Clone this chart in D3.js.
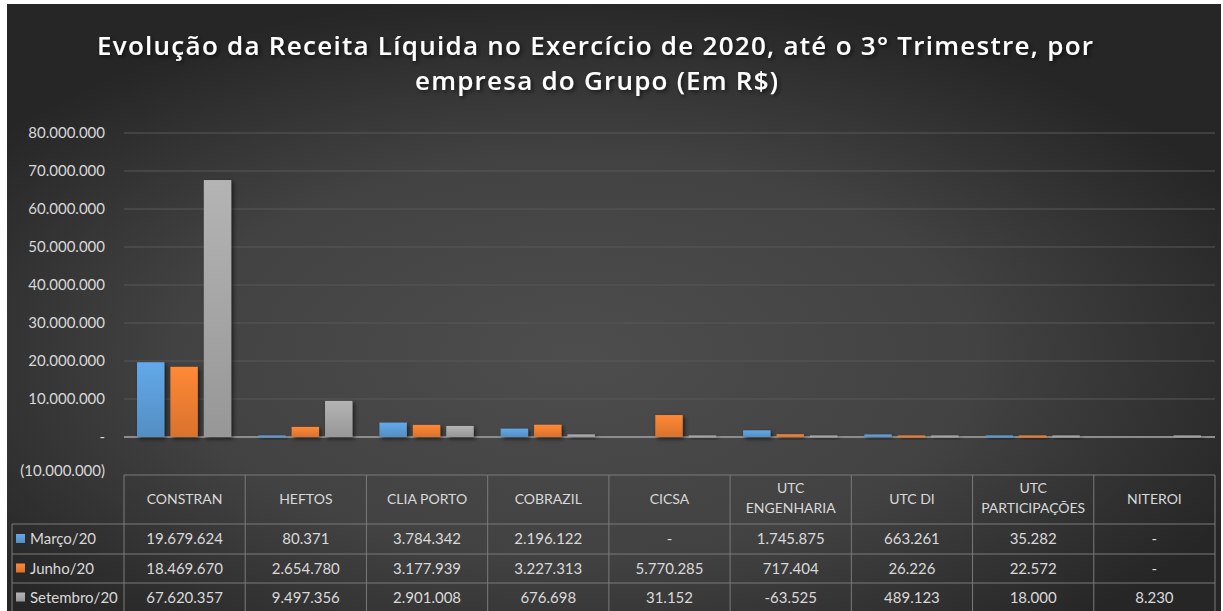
<!DOCTYPE html>
<html>
<head>
<meta charset="utf-8">
<script src="https://cdn.jsdelivr.net/npm/d3@7"></script>
<style>
  body { margin: 0; background: #fff; }
  svg { display: block; }
</style>
</head>
<body>
<div id="chart"></div>
<script>
const empresas = ['CONSTRAN', 'HEFTOS', 'CLIA PORTO', 'COBRAZIL', 'CICSA', 'UTC ENGENHARIA', 'UTC DI', 'UTC PARTICIPAÇÕES', 'NITEROI'];
const series = ['Março/20', 'Junho/20', 'Setembro/20'];
const marco = [19679624, 80371, 3784342, 2196122, null, 1745875, 663261, 35282, null];
const junho = [18469670, 2654780, 3177939, 3227313, 5770285, 717404, 26226, 22572, null];
const setembro = [67620357, 9497356, 2901008, 676698, 31152, -63525, 489123, 18000, 8230];
const yTicks = [-10000000, 0, 10000000, 20000000, 30000000, 40000000, 50000000, 60000000, 70000000, 80000000];
const colors = ['#5b9bd5', '#ed7d31', '#a5a5a5'];

const values = [marco, junho, setembro];
const W = 1223, H = 611;
const plotLeft = 124, plotRight = 1215, plotTop = 133, plotBottom = 475;

const fmt = v => {
  if (v === null) return '-';
  const s = d3.format(',')(Math.abs(v)).replace(/,/g, '.');
  return v < 0 ? '-' + s : s;
};
const tickFmt = v => {
  if (v === 0) return '-';
  const s = d3.format(',')(Math.abs(v)).replace(/,/g, '.');
  return v < 0 ? '(' + s + ')' : s;
};

const svg = d3.select('#chart').append('svg')
  .attr('width', W).attr('height', H);

const defs = svg.append('defs');
const bg = defs.append('radialGradient').attr('id', 'bg')
  .attr('cx', '0.47').attr('cy', '0.58').attr('r', '0.6');
bg.append('stop').attr('offset', '0%').attr('stop-color', '#4d4d4d');
bg.append('stop').attr('offset', '55%').attr('stop-color', '#424242');
bg.append('stop').attr('offset', '100%').attr('stop-color', '#262626');

colors.forEach((c, i) => {
  const g = defs.append('linearGradient').attr('id', 'bar' + i)
    .attr('x1', 0).attr('y1', 0).attr('x2', 0).attr('y2', 1);
  g.append('stop').attr('offset', '0%').attr('stop-color', d3.color(c).brighter(0.25));
  g.append('stop').attr('offset', '100%').attr('stop-color', d3.color(c).darker(0.25));
});

const shadow = defs.append('filter').attr('id', 'shadow')
  .attr('x', '-20%').attr('y', '-50%').attr('width', '150%').attr('height', '250%');
shadow.append('feDropShadow').attr('dx', 2).attr('dy', 2).attr('stdDeviation', 2)
  .attr('flood-color', '#000').attr('flood-opacity', 0.6);

svg.append('rect').attr('x', 7).attr('y', 4).attr('width', 1214).attr('height', H - 4)
  .attr('fill', 'url(#bg)');

// title
const title = svg.append('g').attr('fill', '#ffffff')
  .style('font-family', '"Open Sans", Lato, sans-serif')
  .style('font-weight', 600).style('font-size', '26px')
  .attr('filter', 'url(#shadow)');
title.append('text').attr('x', 97).attr('y', 55)
  .attr('textLength', 996).attr('lengthAdjust', 'spacing')
  .text('Evolução da Receita Líquida no Exercício de 2020, até o 3° Trimestre, por');
title.append('text').attr('x', 415).attr('y', 90)
  .attr('textLength', 363).attr('lengthAdjust', 'spacing')
  .text('empresa do Grupo (Em R$)');

const x = d3.scaleBand().domain(empresas).range([plotLeft, plotRight]).padding(0);
const xs = d3.scaleBand().domain(series).range([13, x.bandwidth() - 14]).paddingInner(0.18);
const y = d3.scaleLinear().domain([-10000000, 80000000]).range([plotBottom, plotTop]);

// gridlines
svg.append('g').selectAll('line').data(yTicks.filter(t => t > 0)).join('line')
  .attr('x1', plotLeft).attr('x2', plotRight)
  .attr('y1', d => y(d)).attr('y2', d => y(d))
  .attr('stroke', '#595959').attr('stroke-width', 1);

// y axis labels
const yAxis = svg.append('g').attr('transform', `translate(${plotLeft - 16},0)`)
  .call(d3.axisLeft(y).tickValues(yTicks).tickFormat(tickFmt).tickSize(0));
yAxis.select('.domain').remove();
yAxis.selectAll('text').attr('fill', '#d9d9d9')
  .style('font-family', 'Lato, sans-serif').style('font-size', '15px')
  .attr('dy', d => d === -10000000 ? '0.05em' : '0.32em');

// zero axis
svg.append('line').attr('x1', plotLeft).attr('x2', plotRight)
  .attr('y1', y(0)).attr('y2', y(0))
  .attr('stroke', '#8c8c8c').attr('stroke-width', 2);

// bars
const groups = svg.append('g').selectAll('g').data(empresas).join('g')
  .attr('transform', d => `translate(${x(d)},0)`);
groups.selectAll('rect')
  .data((d, i) => series.map((s, k) => ({ s, k, v: values[k][i] })).filter(e => e.v !== null))
  .join('rect')
  .attr('x', d => xs(d.s))
  .attr('width', xs.bandwidth())
  .attr('y', d => {
    const h = Math.abs(y(d.v) - y(0));
    if (h < 2) return y(0) - 1.5;
    return d.v >= 0 ? y(d.v) : y(0);
  })
  .attr('height', d => Math.max(2, Math.abs(y(d.v) - y(0))))
  .attr('fill', d => `url(#bar${d.k})`)
  .attr('filter', 'url(#shadow)');

// data table
const rowY = [475, 524, 554, 583, 612];
const tableLine = '#7a7a7a';
const tbl = svg.append('g');
tbl.append('line').attr('x1', plotLeft).attr('x2', plotRight).attr('y1', rowY[0]).attr('y2', rowY[0])
  .attr('stroke', tableLine);
rowY.slice(1).forEach(yy => {
  tbl.append('line').attr('x1', 12).attr('x2', plotRight).attr('y1', yy).attr('y2', yy)
    .attr('stroke', tableLine);
});
tbl.selectAll('line.v').data(empresas.concat(['end'])).join('line').attr('class', 'v')
  .attr('x1', d => d === 'end' ? plotRight : x(d)).attr('x2', d => d === 'end' ? plotRight : x(d))
  .attr('y1', rowY[0]).attr('y2', rowY[4])
  .attr('stroke', tableLine);
tbl.append('line').attr('x1', 12).attr('x2', 12).attr('y1', rowY[1]).attr('y2', rowY[4])
  .attr('stroke', tableLine);

const tfont = sel => sel.attr('fill', '#d9d9d9')
  .style('font-family', 'Lato, sans-serif').style('font-size', '15px');

// header
tbl.selectAll('text.head').data(empresas).join('text').attr('class', 'head')
  .attr('text-anchor', 'middle').call(tfont).style('font-size', '14px')
  .each(function(d) {
    const words = d.split(' ');
    const el = d3.select(this);
    const cx = x(d) + x.bandwidth() / 2;
    if (d.startsWith('UTC ') && d !== 'UTC DI') {
      el.append('tspan').attr('x', cx).attr('y', 493).text(words[0]);
      el.append('tspan').attr('x', cx).attr('y', 513).text(words.slice(1).join(' '));
    } else {
      el.append('tspan').attr('x', cx).attr('y', 504).text(d);
    }
  });

// rows
series.forEach((s, k) => {
  const yy = (rowY[k + 1] + rowY[k + 2]) / 2 + 5;
  tbl.append('rect').attr('x', 16).attr('y', yy - 10).attr('width', 9).attr('height', 9)
    .attr('fill', `url(#bar${k})`);
  tbl.append('text').attr('x', 30).attr('y', yy).call(tfont).text(s);
  tbl.selectAll('text.v' + k).data(empresas).join('text').attr('class', 'v' + k)
    .attr('x', d => x(d) + x.bandwidth() / 2).attr('y', yy)
    .attr('text-anchor', 'middle').call(tfont)
    .text((d, i) => fmt(values[k][i]));
});
</script>
</body>
</html>
